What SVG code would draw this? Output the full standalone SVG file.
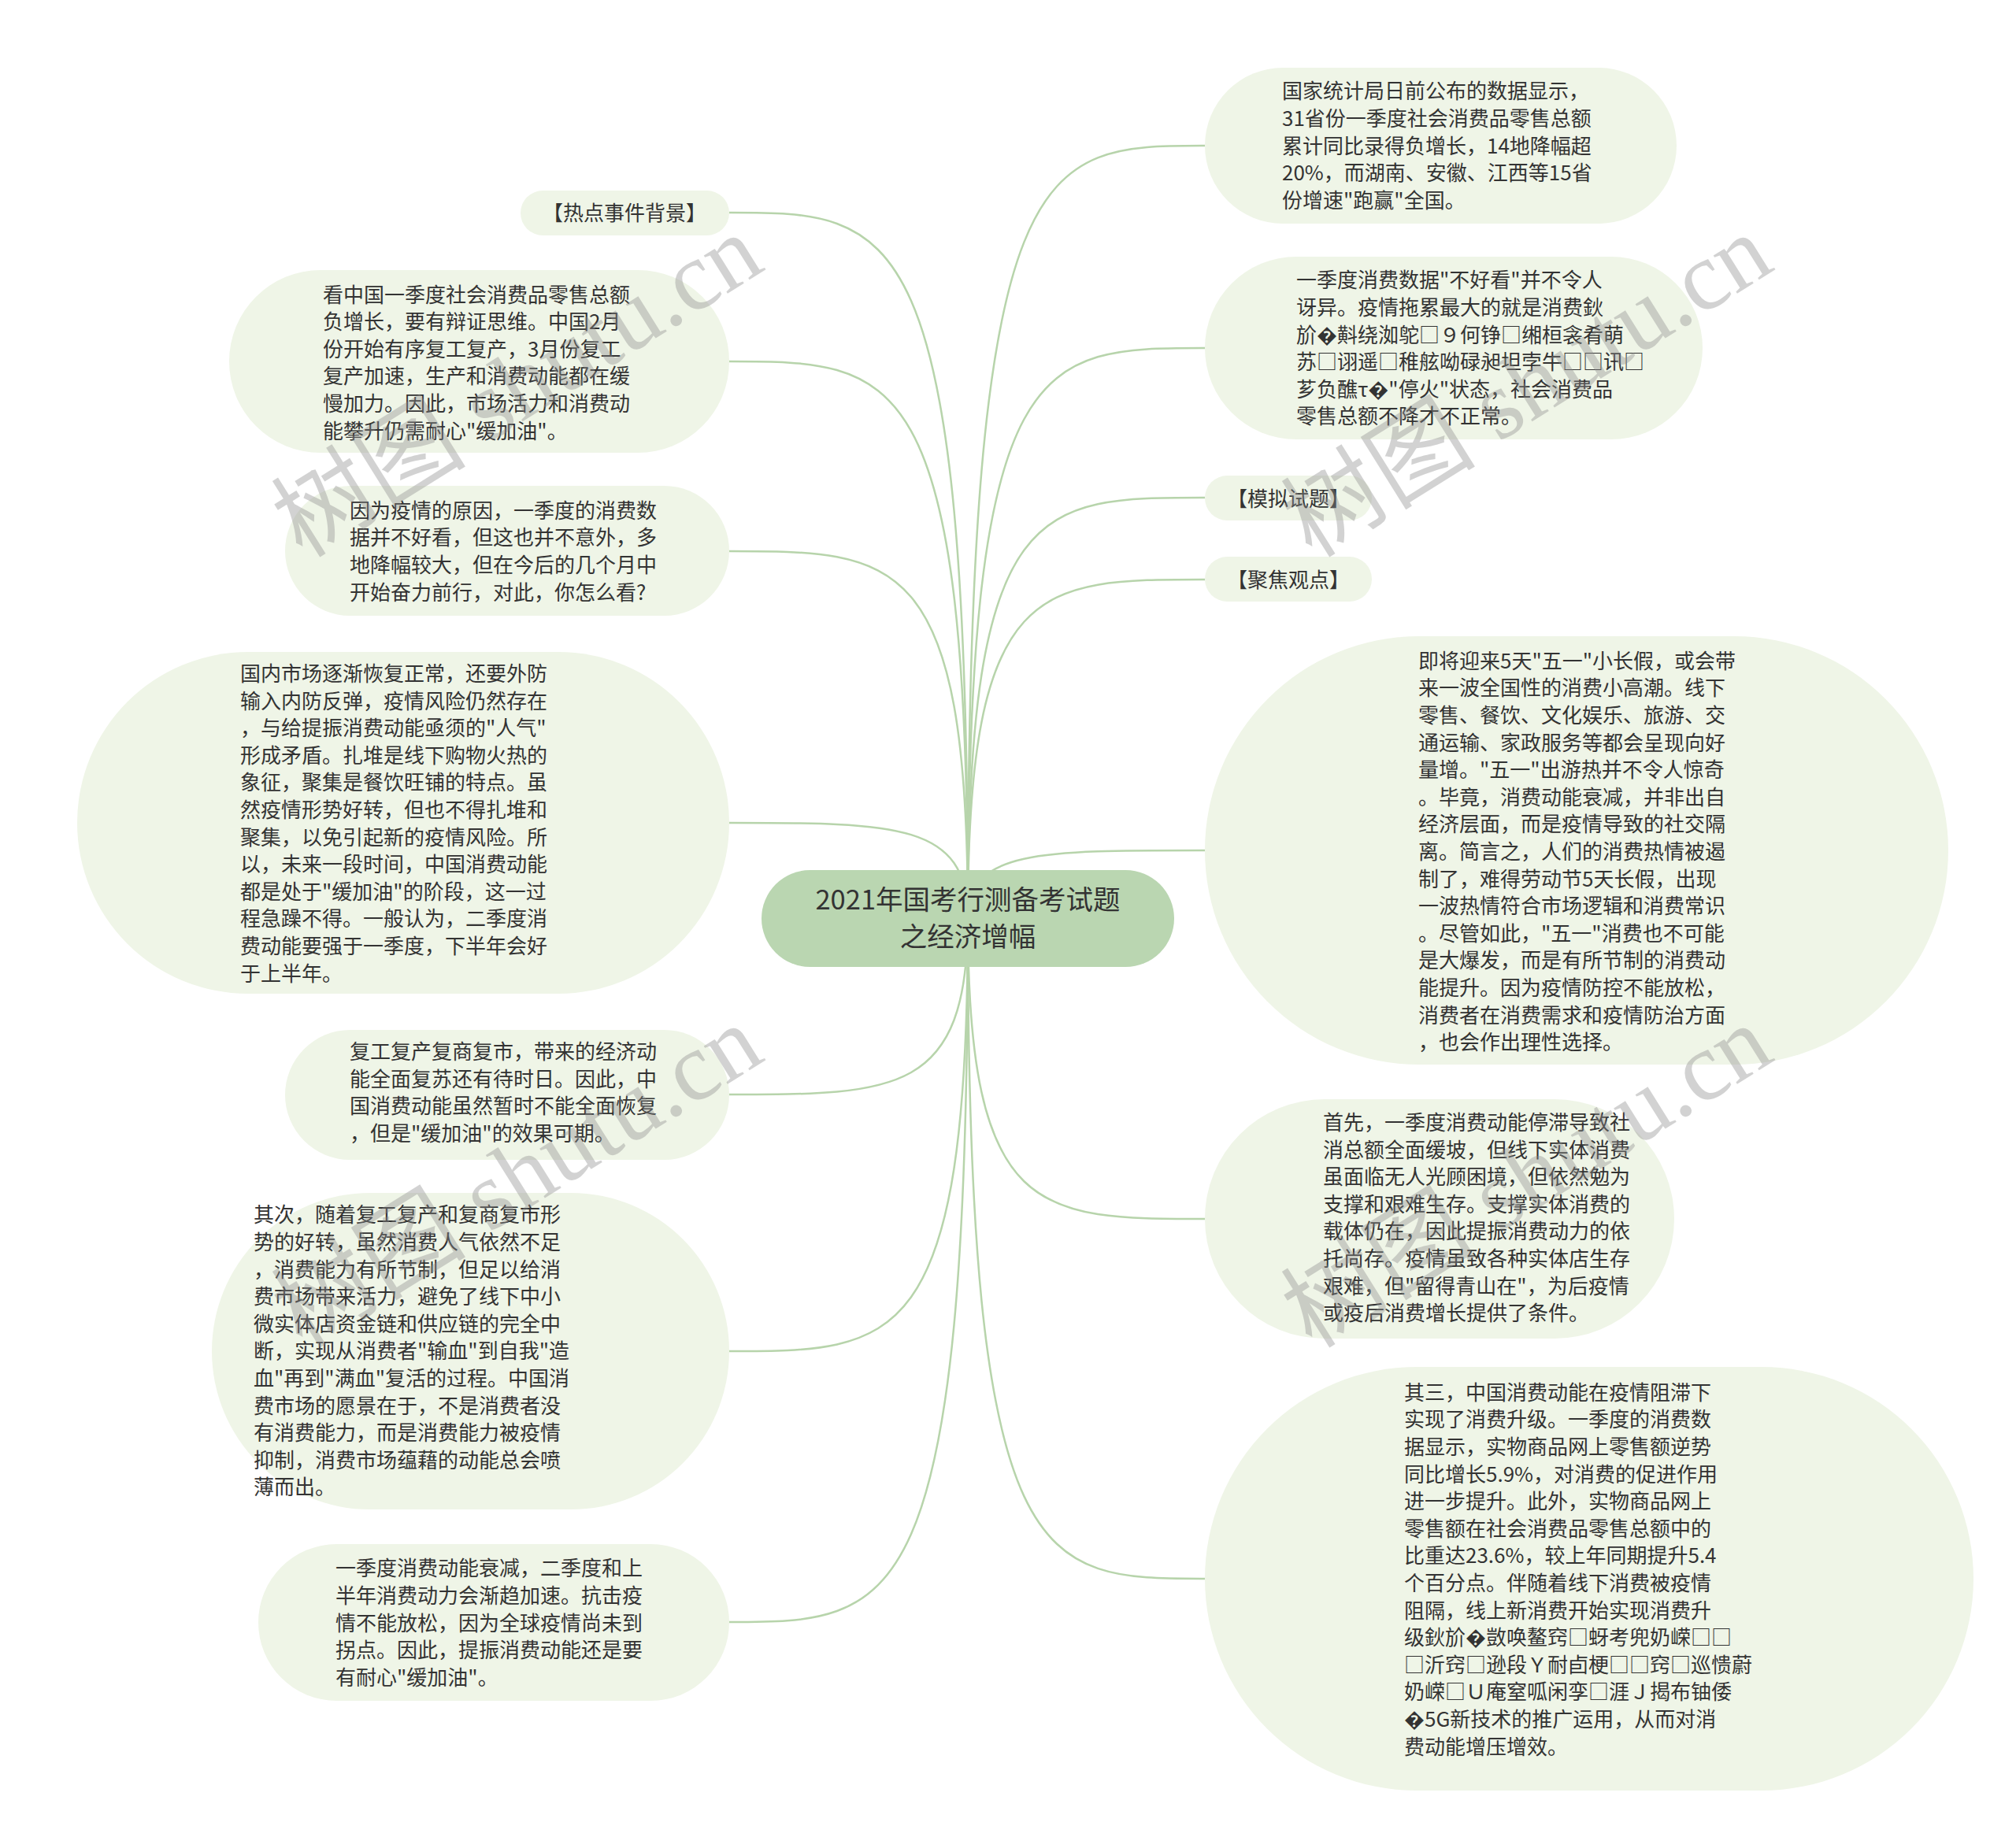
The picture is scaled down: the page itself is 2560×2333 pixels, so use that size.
<svg xmlns="http://www.w3.org/2000/svg" width="2560" height="2333" viewBox="0 0 2560 2333">
<style>
.bg{fill:#ffffff}
.nd{fill:#eff5e7}
.root{fill:#bad6b1}
.t{font-family:"Noto Sans CJK SC","Noto Sans",sans-serif;font-size:26px;fill:#333333}
.rt{font-family:"Noto Sans CJK SC","Noto Sans",sans-serif;font-size:34.5px;fill:#333333;text-anchor:middle}
.c{fill:none;stroke:#b7d4ab;stroke-width:2.5}
.wm{font-family:"Liberation Serif","Noto Sans CJK SC",serif;font-size:124px;fill:#8c8c8c;opacity:0.38}
</style>
<rect class="bg" x="0" y="0" width="2560" height="2333"/>
<g id="connectors">
<path class="c" d="M1229 1166 C1229 270 1138 270 926 270"/>
<path class="c" d="M1229 1166 C1229 459 1138 459 926 459"/>
<path class="c" d="M1229 1166 C1229 700 1138 700 926 700"/>
<path class="c" d="M1229 1166 C1229 1045 1138 1045 926 1045"/>
<path class="c" d="M1229 1166 C1229 1390 1138 1390 926 1390"/>
<path class="c" d="M1229 1166 C1229 1716 1138 1716 926 1716"/>
<path class="c" d="M1229 1166 C1229 2060 1138 2060 926 2060"/>
<path class="c" d="M1229 1166 C1229 185 1319 185 1530 185"/>
<path class="c" d="M1229 1166 C1229 442 1319 442 1530 442"/>
<path class="c" d="M1229 1166 C1229 632 1319 632 1530 632"/>
<path class="c" d="M1229 1166 C1229 736 1319 736 1530 736"/>
<path class="c" d="M1229 1166 C1229 1080 1319 1080 1530 1080"/>
<path class="c" d="M1229 1166 C1229 1548 1319 1548 1530 1548"/>
<path class="c" d="M1229 1166 C1229 2005 1319 2005 1530 2005"/>
</g>
<g id="root">
<rect class="root" x="967" y="1105" width="524" height="123" rx="61.5"/>
<text class="rt" x="1229" y="1155">2021年国考行测备考试题</text>
<text class="rt" x="1229" y="1202">之经济增幅</text>
</g>
<g id="L1">
<rect class="nd" x="661" y="242" width="265" height="57" rx="28.5"/>
<text class="t" x="793" y="279.5" text-anchor="middle">【热点事件背景】</text>
</g>
<g id="L2">
<rect class="nd" x="291" y="343" width="635" height="232" rx="116"/>
<text class="t" x="410" y="383.5"><tspan x="410">看中国一季度社会消费品零售总额</tspan><tspan x="410" dy="34.6">负增长，要有辩证思维。中国2月</tspan><tspan x="410" dy="34.6">份开始有序复工复产，3月份复工</tspan><tspan x="410" dy="34.6">复产加速，生产和消费动能都在缓</tspan><tspan x="410" dy="34.6">慢加力。因此，市场活力和消费动</tspan><tspan x="410" dy="34.6">能攀升仍需耐心"缓加油"。</tspan></text>
</g>
<g id="L3">
<rect class="nd" x="362" y="617" width="564" height="165" rx="82.5"/>
<text class="t" x="444" y="657.7"><tspan x="444">因为疫情的原因，一季度的消费数</tspan><tspan x="444" dy="34.6">据并不好看，但这也并不意外，多</tspan><tspan x="444" dy="34.6">地降幅较大，但在今后的几个月中</tspan><tspan x="444" dy="34.6">开始奋力前行，对此，你怎么看?</tspan></text>
</g>
<g id="L4">
<rect class="nd" x="98" y="828" width="828" height="434" rx="217"/>
<text class="t" x="305" y="865"><tspan x="305">国内市场逐渐恢复正常，还要外防</tspan><tspan x="305" dy="34.6">输入内防反弹，疫情风险仍然存在</tspan><tspan x="305" dy="34.6">，与给提振消费动能亟须的"人气"</tspan><tspan x="305" dy="34.6">形成矛盾。扎堆是线下购物火热的</tspan><tspan x="305" dy="34.6">象征，聚集是餐饮旺铺的特点。虽</tspan><tspan x="305" dy="34.6">然疫情形势好转，但也不得扎堆和</tspan><tspan x="305" dy="34.6">聚集，以免引起新的疫情风险。所</tspan><tspan x="305" dy="34.6">以，未来一段时间，中国消费动能</tspan><tspan x="305" dy="34.6">都是处于"缓加油"的阶段，这一过</tspan><tspan x="305" dy="34.6">程急躁不得。一般认为，二季度消</tspan><tspan x="305" dy="34.6">费动能要强于一季度，下半年会好</tspan><tspan x="305" dy="34.6">于上半年。</tspan></text>
</g>
<g id="L5">
<rect class="nd" x="362" y="1308" width="564" height="165" rx="82.5"/>
<text class="t" x="444" y="1345"><tspan x="444">复工复产复商复市，带来的经济动</tspan><tspan x="444" dy="34.6">能全面复苏还有待时日。因此，中</tspan><tspan x="444" dy="34.6">国消费动能虽然暂时不能全面恢复</tspan><tspan x="444" dy="34.6">，但是"缓加油"的效果可期。</tspan></text>
</g>
<g id="L6">
<rect class="nd" x="269" y="1515" width="657" height="402" rx="201"/>
<text class="t" x="322" y="1552.4"><tspan x="322">其次，随着复工复产和复商复市形</tspan><tspan x="322" dy="34.6">势的好转，虽然消费人气依然不足</tspan><tspan x="322" dy="34.6">，消费能力有所节制，但足以给消</tspan><tspan x="322" dy="34.6">费市场带来活力，避免了线下中小</tspan><tspan x="322" dy="34.6">微实体店资金链和供应链的完全中</tspan><tspan x="322" dy="34.6">断，实现从消费者"输血"到自我"造</tspan><tspan x="322" dy="34.6">血"再到"满血"复活的过程。中国消</tspan><tspan x="322" dy="34.6">费市场的愿景在于，不是消费者没</tspan><tspan x="322" dy="34.6">有消费能力，而是消费能力被疫情</tspan><tspan x="322" dy="34.6">抑制，消费市场蕴藉的动能总会喷</tspan><tspan x="322" dy="34.6">薄而出。</tspan></text>
</g>
<g id="L7">
<rect class="nd" x="328" y="1961" width="598" height="199" rx="99.5"/>
<text class="t" x="426" y="2001.4"><tspan x="426">一季度消费动能衰减，二季度和上</tspan><tspan x="426" dy="34.6">半年消费动力会渐趋加速。抗击疫</tspan><tspan x="426" dy="34.6">情不能放松，因为全球疫情尚未到</tspan><tspan x="426" dy="34.6">拐点。因此，提振消费动能还是要</tspan><tspan x="426" dy="34.6">有耐心"缓加油"。</tspan></text>
</g>
<g id="R1">
<rect class="nd" x="1530" y="86" width="599" height="198" rx="99"/>
<text class="t" x="1628" y="125.4"><tspan x="1628">国家统计局日前公布的数据显示，</tspan><tspan x="1628" dy="34.6">31省份一季度社会消费品零售总额</tspan><tspan x="1628" dy="34.6">累计同比录得负增长，14地降幅超</tspan><tspan x="1628" dy="34.6">20%，而湖南、安徽、江西等15省</tspan><tspan x="1628" dy="34.6">份增速"跑赢"全国。</tspan></text>
</g>
<g id="R2">
<rect class="nd" x="1530" y="326" width="632" height="232" rx="116"/>
<text class="t" x="1646" y="365.4"><tspan x="1646">一季度消费数据"不好看"并不令人</tspan><tspan x="1646" dy="34.6">讶异。疫情拖累最大的就是消费鈥</tspan><tspan x="1646" dy="34.6">斺�斢绕洳鸵□９何铮□缃桓衾肴萌</tspan><tspan x="1646" dy="34.6">苏□诩遥□稚舷呦碌昶坦孛牛□□讯□</tspan><tspan x="1646" dy="34.6">芗负醮τ�"停火"状态，社会消费品</tspan><tspan x="1646" dy="34.6">零售总额不降才不正常。</tspan></text>
</g>
<g id="R3">
<rect class="nd" x="1530" y="604" width="212" height="57" rx="28.5"/>
<text class="t" x="1636" y="642.5" text-anchor="middle">【模拟试题】</text>
</g>
<g id="R4">
<rect class="nd" x="1530" y="707" width="212" height="57" rx="28.5"/>
<text class="t" x="1636" y="745.5" text-anchor="middle">【聚焦观点】</text>
</g>
<g id="R5">
<rect class="nd" x="1530" y="808" width="944" height="544" rx="272"/>
<text class="t" x="1801" y="848.7"><tspan x="1801">即将迎来5天"五一"小长假，或会带</tspan><tspan x="1801" dy="34.6">来一波全国性的消费小高潮。线下</tspan><tspan x="1801" dy="34.6">零售、餐饮、文化娱乐、旅游、交</tspan><tspan x="1801" dy="34.6">通运输、家政服务等都会呈现向好</tspan><tspan x="1801" dy="34.6">量增。"五一"出游热并不令人惊奇</tspan><tspan x="1801" dy="34.6">。毕竟，消费动能衰减，并非出自</tspan><tspan x="1801" dy="34.6">经济层面，而是疫情导致的社交隔</tspan><tspan x="1801" dy="34.6">离。简言之，人们的消费热情被遏</tspan><tspan x="1801" dy="34.6">制了，难得劳动节5天长假，出现</tspan><tspan x="1801" dy="34.6">一波热情符合市场逻辑和消费常识</tspan><tspan x="1801" dy="34.6">。尽管如此，"五一"消费也不可能</tspan><tspan x="1801" dy="34.6">是大爆发，而是有所节制的消费动</tspan><tspan x="1801" dy="34.6">能提升。因为疫情防控不能放松，</tspan><tspan x="1801" dy="34.6">消费者在消费需求和疫情防治方面</tspan><tspan x="1801" dy="34.6">，也会作出理性选择。</tspan></text>
</g>
<g id="R6">
<rect class="nd" x="1530" y="1396" width="596" height="304" rx="152"/>
<text class="t" x="1680" y="1435"><tspan x="1680">首先，一季度消费动能停滞导致社</tspan><tspan x="1680" dy="34.6">消总额全面缓坡，但线下实体消费</tspan><tspan x="1680" dy="34.6">虽面临无人光顾困境，但依然勉为</tspan><tspan x="1680" dy="34.6">支撑和艰难生存。支撑实体消费的</tspan><tspan x="1680" dy="34.6">载体仍在，因此提振消费动力的依</tspan><tspan x="1680" dy="34.6">托尚存。疫情虽致各种实体店生存</tspan><tspan x="1680" dy="34.6">艰难，但"留得青山在"，为后疫情</tspan><tspan x="1680" dy="34.6">或疫后消费增长提供了条件。</tspan></text>
</g>
<g id="R7">
<rect class="nd" x="1530" y="1736" width="976" height="538" rx="269"/>
<text class="t" x="1783" y="1777.7"><tspan x="1783">其三，中国消费动能在疫情阻滞下</tspan><tspan x="1783" dy="34.6">实现了消费升级。一季度的消费数</tspan><tspan x="1783" dy="34.6">据显示，实物商品网上零售额逆势</tspan><tspan x="1783" dy="34.6">同比增长5.9%，对消费的促进作用</tspan><tspan x="1783" dy="34.6">进一步提升。此外，实物商品网上</tspan><tspan x="1783" dy="34.6">零售额在社会消费品零售总额中的</tspan><tspan x="1783" dy="34.6">比重达23.6%，较上年同期提升5.4</tspan><tspan x="1783" dy="34.6">个百分点。伴随着线下消费被疫情</tspan><tspan x="1783" dy="34.6">阻隔，线上新消费开始实现消费升</tspan><tspan x="1783" dy="34.6">级鈥斺�敳唤鳌窍□蚜考兜奶嵘□□</tspan><tspan x="1783" dy="34.6">□沂窍□逊段Ｙ耐卣梗□□窍□巡愦蔚</tspan><tspan x="1783" dy="34.6">奶嵘□Ｕ庵窒呱闲孪□涯Ｊ揭布铀倭</tspan><tspan x="1783" dy="34.6">�5G新技术的推广运用，从而对消</tspan><tspan x="1783" dy="34.6">费动能增压增效。</tspan></text>
</g>
<g id="watermarks">
<text class="wm" transform="translate(384 710) rotate(-32)">树图 shutu.cn</text>
<text class="wm" transform="translate(384 1714) rotate(-32)">树图 shutu.cn</text>
<text class="wm" transform="translate(1666 710) rotate(-32)">树图 shutu.cn</text>
<text class="wm" transform="translate(1666 1714) rotate(-32)">树图 shutu.cn</text>
</g>
</svg>
